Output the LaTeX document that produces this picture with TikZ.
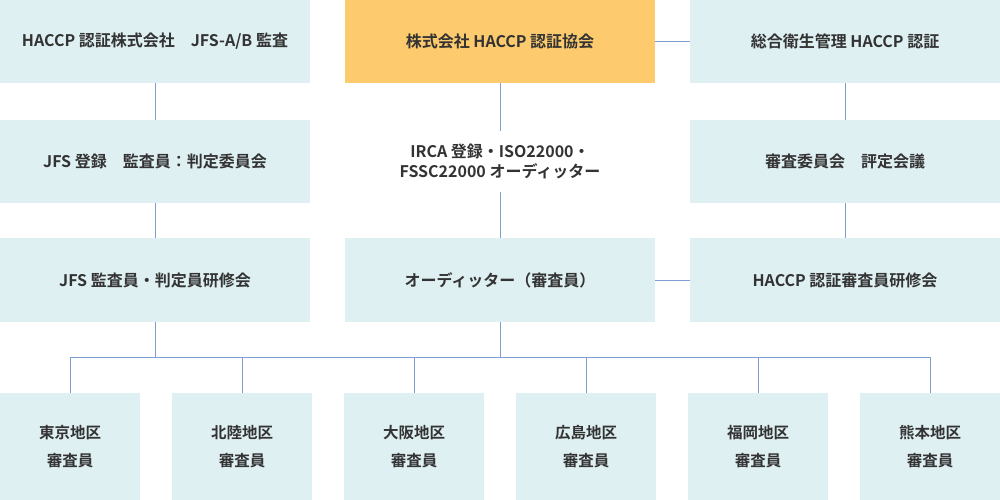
\documentclass[tikz,border=0pt]{standalone}
\usepackage{fontspec}
\setmainfont{Noto Sans CJK JP}[BoldFont={Noto Sans CJK JP Bold}]
\definecolor{boxc}{HTML}{DFF0F3}
\definecolor{orgc}{HTML}{FDCA6E}
\definecolor{linec}{HTML}{7C9FCF}
\definecolor{txtc}{HTML}{333333}
\begin{document}
\begin{tikzpicture}[x=1pt,y=-1pt,
  box/.style={fill=boxc,draw=none,inner sep=0pt,text=txtc,align=center,
    font=\bfseries\fontsize{16}{20}\selectfont,minimum width=310pt,minimum height=83pt},
  topbox/.style={box,fill=orgc},
  plain/.style={inner sep=0pt,text=txtc,align=center,
    font=\bfseries\fontsize{16}{20.5}\selectfont,minimum height=60pt},
  dist/.style={box,minimum width=140pt,minimum height=107pt,
    font=\bfseries\fontsize{15.5}{28}\selectfont},
  conn/.style={draw=linec,line width=0.9pt}]
\useasboundingbox[fill=white] (0,0) rectangle (1000,500);
% top row
\node[box] (tl) at (155,41.5) {HACCP 認証株式会社　JFS-A/B 監査};
\node[topbox] (tc) at (500,41.5) {株式会社 HACCP 認証協会};
\node[box] (tr) at (845,41.5) {総合衛生管理 HACCP 認証};
% row 2
\node[box] (ml) at (155,161.5) {JFS 登録　監査員：判定委員会};
\node[plain] (mc) at (500,161.5) {IRCA 登録・ISO22000・\\FSSC22000 オーディッター};
\node[box] (mr) at (845,161.5) {審査委員会　評定会議};
% row 3
\node[box,minimum height=84pt] (bl) at (155,280) {JFS 監査員・判定員研修会};
\node[box,minimum height=84pt] (bc) at (500,280) {オーディッター（審査員）};
\node[box,minimum height=84pt] (br) at (845,280) {HACCP 認証審査員研修会};
% districts
\node[dist] (d1) at (70,446.5) {東京地区\\審査員};
\node[dist] (d2) at (242,446.5) {北陸地区\\審査員};
\node[dist] (d3) at (414,446.5) {大阪地区\\審査員};
\node[dist] (d4) at (586,446.5) {広島地区\\審査員};
\node[dist] (d5) at (758,446.5) {福岡地区\\審査員};
\node[dist] (d6) at (930,446.5) {熊本地区\\審査員};
\coordinate (bus) at (0,357);
% connectors
\draw[conn] (tl.south) -- (ml.north);
\draw[conn] (ml.south) -- (bl.north);
\draw[conn] (tc.south) -- (mc.north);
\draw[conn] (mc.south) -- (bc.north);
\draw[conn] (tr.south) -- (mr.north);
\draw[conn] (mr.south) -- (br.north);
\draw[conn] (tc.east) -- (tr.west);
\draw[conn] (bc.east) -- (br.west);
\draw[conn] (bl.south) -- (bl.south |- bus);
\draw[conn] (bc.south) -- (bc.south |- bus);
\draw[conn] (d1.north) -- (d1.north |- bus) -- (d6.north |- bus) -- (d6.north);
\draw[conn] (d2.north) -- (d2.north |- bus);
\draw[conn] (d3.north) -- (d3.north |- bus);
\draw[conn] (d4.north) -- (d4.north |- bus);
\draw[conn] (d5.north) -- (d5.north |- bus);
\end{tikzpicture}
\end{document}
